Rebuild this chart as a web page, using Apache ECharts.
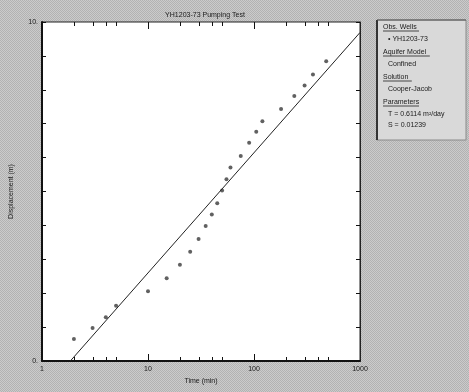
<!DOCTYPE html>
<html><head><meta charset="utf-8">
<script src="https://cdn.jsdelivr.net/npm/echarts@6/dist/echarts.min.js"></script>
<style>html,body{margin:0;padding:0;background:#c6c6c6;}#c{width:469px;height:392px;}</style>
</head><body><div id="c"></div>
<script>
// ---- data ----
const timeMin = [2, 3, 4, 5, 10, 15, 20, 25, 30, 35, 40, 45, 50, 55, 60, 75, 90, 105, 120, 180, 240, 300, 360, 480];
const displacement = [0.65, 0.97, 1.29, 1.63, 2.06, 2.44, 2.84, 3.22, 3.60, 3.98, 4.32, 4.65, 5.03, 5.36, 5.71, 6.05, 6.44, 6.76, 7.07, 7.43, 7.82, 8.13, 8.45, 8.84];
const fitTime = [1.85, 1000];
const fitDisp = [0, 9.69];
const xMajorTicks = [10, 100];
const xMinorTicks = [2, 3, 4, 5, 20, 30, 40, 50, 200, 300, 400, 500];
const yTickLabels = {0: '0.', 10: '10.'};
const titleText = 'YH1203-73 Pumping Test';
const xName = 'Time (min)';
const yName = 'Displacement (m)';
const legendLines = [
  ['Obs. Wells', true], ['\u2022 YH1203-73', false],
  ['Aquifer Model', true], ['Confined', false],
  ['Solution', true], ['Cooper-Jacob', false],
  ['Parameters', true], ['T = 0.6114 m\u00B2/day', false], ['S = 0.01239', false]
];

// background texture
const pc = document.createElement('canvas');
pc.width = 2; pc.height = 2;
const pctx = pc.getContext('2d');
pctx.fillStyle = '#cbcbcb'; pctx.fillRect(0, 0, 2, 2);
pctx.fillStyle = '#b2b2b2'; pctx.fillRect(0, 0, 1, 1); pctx.fillRect(1, 1, 1, 1);

const font = 'Liberation Sans, Arial, sans-serif';
const chart = echarts.init(document.getElementById('c'), null, {renderer: 'canvas'});

const scatterData = timeMin.map((t, i) => [t, displacement[i]]);
const lineData = fitTime.map((t, i) => [t, fitDisp[i]]);
const yMin = 0, yMax = 10;

chart.setOption({
  backgroundColor: {image: pc, repeat: 'repeat'},
  animation: false,
  title: {text: titleText, left: 200, top: 7, textAlign: 'center', textStyle: {fontSize: 7, fontWeight: 'normal', color: '#1a1a1a', fontFamily: font}},
  grid: {left: 39, top: 22, right: 109, bottom: 31, show: true, backgroundColor: '#ffffff', borderColor: '#222', borderWidth: 1},
  xAxis: {type: 'log', logBase: 10, min: 1, max: 1000, position: 'bottom',
    axisLine: {show: true, onZero: false, lineStyle: {color: '#111', width: 2}},
    axisTick: {show: false}, minorTick: {show: false}, splitLine: {show: false},
    axisLabel: {show: true, color: '#1a1a1a', fontSize: 7, fontFamily: font, margin: 5, formatter: v => String(Math.round(v))},
    name: xName, nameLocation: 'middle', nameGap: 17,
    nameTextStyle: {fontSize: 7, color: '#1a1a1a', fontFamily: font}},
  yAxis: [
    {type: 'value', min: yMin, max: yMax, interval: 1, position: 'left',
      axisLine: {show: true, onZero: false, lineStyle: {color: '#111', width: 2}},
      axisTick: {show: true, inside: true, length: 4, lineStyle: {color: '#111'}},
      axisLabel: {show: true, color: '#1a1a1a', fontSize: 7, fontFamily: font, margin: 4, formatter: v => (yTickLabels[v] !== undefined ? yTickLabels[v] : '')},
      splitLine: {show: false},
      name: yName, nameLocation: 'middle', nameGap: 27, nameRotate: 90,
      nameTextStyle: {fontSize: 7, color: '#1a1a1a', fontFamily: font}},
    {type: 'value', min: yMin, max: yMax, interval: 1, position: 'right',
      axisLine: {show: true, onZero: false, lineStyle: {color: '#222', width: 1}},
      axisTick: {show: true, inside: true, length: 4, lineStyle: {color: '#111'}},
      axisLabel: {show: false}, splitLine: {show: false}}
  ],
  series: [
    {type: 'line', data: lineData, xAxisIndex: 0, yAxisIndex: 0, showSymbol: false, symbol: 'none',
      lineStyle: {color: '#222', width: 1}},
    {type: 'scatter', data: scatterData, xAxisIndex: 0, yAxisIndex: 0, symbol: 'circle', symbolSize: 4,
      itemStyle: {color: '#3a3a3a'}}
  ]
});

// legend box + x ticks (positions from the chart's own scales)
const graphics = [
  {type: 'rect', z: 10, shape: {x: 377, y: 20, width: 89, height: 120}, style: {fill: '#d9d9d9', stroke: '#8a8a8a', lineWidth: 1}},
  {type: 'line', z: 11, shape: {x1: 377, y1: 20, x2: 377, y2: 140}, style: {stroke: '#333', lineWidth: 2}},
  {type: 'line', z: 11, shape: {x1: 377, y1: 20, x2: 466, y2: 20}, style: {stroke: '#555', lineWidth: 1}}
];
const ys = [27, 39, 52, 64, 77, 89, 102, 114, 125];
legendLines.forEach((l, i) => {
  const x = l[1] ? 383 : 388;
  graphics.push({type: 'text', z: 12, x: x, y: ys[i], style: {text: l[0], fontSize: 7, fontFamily: font, fill: '#1a1a1a', verticalAlign: 'middle'}});
  if (l[1]) {
    graphics.push({type: 'line', z: 12, shape: {x1: x, y1: ys[i] + 4, x2: x + l[0].length * 3.6, y2: ys[i] + 4}, style: {stroke: '#222', lineWidth: 0.8}});
  }
});
const yBottom = chart.convertToPixel({yAxisIndex: 0}, yMin);
const yTop = chart.convertToPixel({yAxisIndex: 0}, yMax);
function addTick(t, len) {
  const px = Math.round(chart.convertToPixel({xAxisIndex: 0}, t)) + 0.5;
  graphics.push({type: 'line', z: 20, silent: true, shape: {x1: px, y1: yBottom, x2: px, y2: yBottom - len}, style: {stroke: '#111', lineWidth: 1}});
  graphics.push({type: 'line', z: 20, silent: true, shape: {x1: px, y1: yTop, x2: px, y2: yTop + len}, style: {stroke: '#111', lineWidth: 1}});
}
xMajorTicks.forEach(t => addTick(t, 7));
xMinorTicks.forEach(t => addTick(t, 4));
chart.setOption({graphic: graphics});
</script>
</body></html>
